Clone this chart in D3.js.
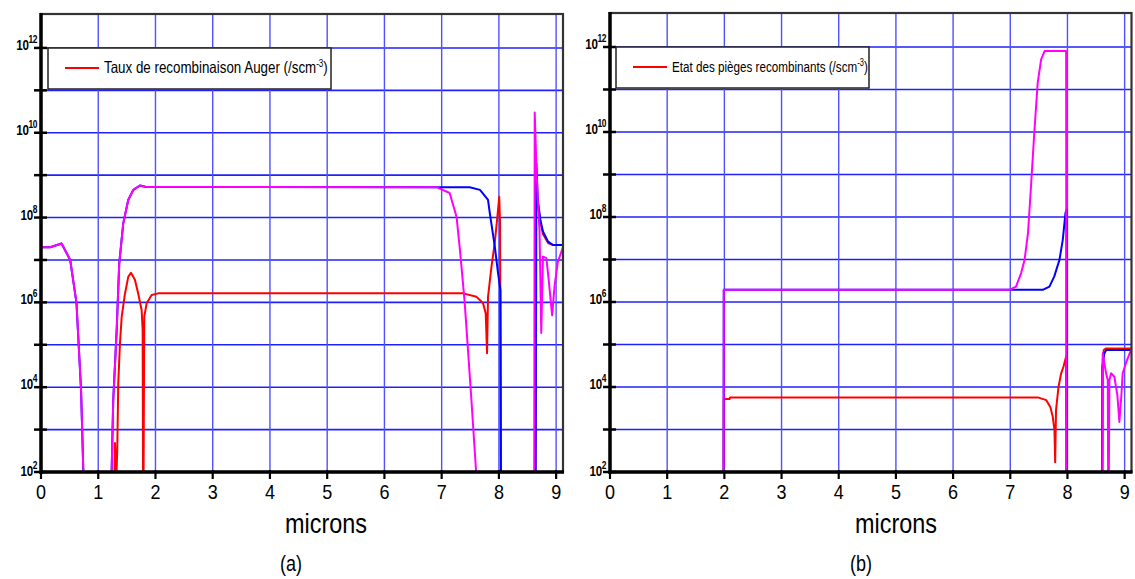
<!DOCTYPE html>
<html><head><meta charset="utf-8">
<script src="https://cdn.jsdelivr.net/npm/d3@7"></script>
<style>
body{margin:0;background:#fff;}
svg{display:block;}
text{font-family:"Liberation Sans",Arial,sans-serif;fill:#000;}
</style></head>
<body><svg id="chart" width="1135" height="579"></svg>
<script>
// ---------- DATA (micron, value in /cm3) ----------
const xTicks = [0,1,2,3,4,5,6,7,8,9];
const yDecades = [2,3,4,5,6,7,8,9,10,11,12];
const yLabelDecades = [2,4,6,8,10,12];

// Panel (a)
const aMagenta = [[0,2.0e7],[0.16,2.0e7],[0.36,2.45e7],[0.51,1.0e7],[0.62,9.7e5],[0.66,9e4],[0.70,8.5e3],[0.74,1e2],[0.76,1],
  [1.20,1],[1.234,1e2],[1.262,5e3],[1.322,2.2e5],[1.367,8.3e6],[1.437,7.3e7],[1.524,2.6e8],[1.612,4.5e8],[1.729,5.7e8],[1.82,5.3e8],
  [6.91,5.2e8],[7.14,3.8e8],[7.26,1.05e8],[7.32,1.7e7],[7.40,1.1e6],[7.46,7.6e4],[7.52,5e3],[7.60,1.1e2],[7.62,1],
  [8.615,1],[8.626,3.0e10],[8.655,1.6e9],[8.68,2.6e8],[8.71,5.1e7],[8.74,1.9e5],[8.77,1.2e7],[8.83,1.1e7],[8.87,3.4e6],[8.93,5e5],
  [8.975,2.6e6],[9.03,9e6],[9.12,2.0e7]];
const aBlue = [[0,2.0e7],[0.16,2.0e7],[0.36,2.45e7],[0.51,1.0e7],[0.62,9.7e5],[0.66,9e4],[0.70,8.5e3],[0.74,1e2],[0.76,1],
  [1.20,1],[1.234,1e2],[1.262,5e3],[1.322,2.2e5],[1.367,8.3e6],[1.437,7.3e7],[1.524,2.6e8],[1.612,4.5e8],[1.729,5.7e8],[1.82,5.3e8],
  [6.91,5.2e8],[7.49,5.2e8],[7.67,4.5e8],[7.81,2.6e8],[7.84,1.3e8],[7.93,2.0e7],[7.985,4.9e6],[8.027,1.95e6],[8.035,1e2],[8.04,1],
  [8.64,1],[8.655,1.9e9],[8.68,2.6e8],[8.725,8.8e7],[8.77,4.7e7],[8.86,2.7e7],[8.945,2.25e7],[9.12,2.25e7]];
const aRed = [[0,1],[1.27,1],[1.283,1e2],[1.292,4.8e2],[1.31,1e2],[1.32,1e2],[1.332,3.3e2],[1.35,1.26e4],[1.38,1.1e5],[1.41,4.6e5],
  [1.467,1.6e6],[1.524,4e6],[1.572,5e6],[1.641,3.4e6],[1.699,1.6e6],[1.758,6.6e5],[1.776,2.2e5],[1.786,1],[1.804,4.6e5],[1.846,9.5e5],
  [1.933,1.5e6],[2.048,1.63e6],[7.374,1.63e6],[7.61,1.35e6],[7.723,9.5e5],[7.77,5.5e5],[7.793,6.3e4],[7.81,1.35e6],[7.87,6.9e6],
  [7.927,2.5e7],[7.974,1.05e8],[8.006,3.1e8],[8.02,7.9e7],[8.04,1],
  [8.634,1],[8.643,1.6e9],[8.652,4.5e8],[8.68,2e8],[8.725,8e7],[8.77,4.1e7],[8.86,2.5e7],[8.945,2.25e7],[9.12,2.25e7]];

// Panel (b)
const bMagenta = [[0,1],[1.985,1],[1.99,1.93e6],[6.987,1.93e6],[7.10,2.3e6],[7.19,4.8e6],[7.25,9.8e6],[7.31,4.2e7],[7.366,6.3e8],
  [7.42,9.6e9],[7.48,1.45e11],[7.54,5.1e11],[7.60,8e11],[7.977,8e11],[7.983,1],
  [8.61,1],[8.617,6.2e4],[8.676,2.1e4],[8.705,1.45e4],[8.716,1],[8.733,1.45e4],[8.763,2.1e4],[8.82,1.74e4],[8.873,6.4e3],
  [8.908,1.5e3],[8.943,6.4e3],[8.966,2.1e4],[9.03,3.9e4],[9.11,7.4e4],[9.12,7.6e4]];
const bBlue = [[0,1],[1.985,1],[1.99,1.93e6],[7.568,1.93e6],[7.685,2.3e6],[7.77,4e6],[7.86,9.8e6],[7.918,2.9e7],[7.965,1.24e8],
  [7.983,1.5e8],[7.99,1],[8.605,1],[8.61,3e4],[8.646,6.2e4],[8.68,7.4e4],[9.12,7.4e4]];
const bRed = [[0,1],[1.985,1],[1.99,5.2e3],[2.09,5.2e3],[2.10,5.7e3],[7.48,5.7e3],[7.63,4.9e3],[7.70,3.4e3],[7.743,2e3],[7.773,9.6e2],
  [7.785,1.7e2],[7.80,2.85e3],[7.843,1e4],[7.89,2.1e4],[7.93,3e4],[7.977,5.2e4],[7.983,1],
  [8.605,1],[8.617,4.4e4],[8.635,7.4e4],[8.67,8e4],[9.12,8e4]];

const legendA = "Taux de recombinaison Auger (/scm";
const legendB = "Etat des pièges recombinants (/scm";
const xTitle = "microns";

// ---------- DRAW ----------
const svg = d3.select("#chart");

// squeeze a text group horizontally to a target ink width, anchored at its left (or given anchor)
function squeezeTo(sel, targetW, ax, ay){
  const w = sel.node().getBBox().width;
  const s = targetW / w;
  sel.attr("transform", `translate(${ax},${ay}) scale(${s},1) translate(${-ax},${-ay})`);
}

function panel(cfg){
  const g = svg.append("g");
  const x = d3.scaleLinear().domain([0, 9.12]).range([cfg.x0, cfg.x1]);
  const y = d3.scaleLog().domain([1e2, Math.pow(10,12.8)]).range([472, cfg.y0]);
  const id = "clip"+cfg.name;
  svg.append("clipPath").attr("id", id).append("rect")
    .attr("x", cfg.x0).attr("y", cfg.y0).attr("width", cfg.x1-cfg.x0).attr("height", 472-cfg.y0);

  // grid
  g.selectAll(".hg").data(yDecades.slice(1)).enter().append("line")
    .attr("x1", cfg.x0).attr("x2", cfg.x1)
    .attr("y1", d=>y(Math.pow(10,d))).attr("y2", d=>y(Math.pow(10,d)))
    .attr("stroke", "#2020ff").attr("stroke-width", 1.6);
  g.selectAll(".vg").data(xTicks.slice(1)).enter().append("line")
    .attr("x1", d=>x(d)).attr("x2", d=>x(d)).attr("y1", cfg.y0).attr("y2", 472)
    .attr("stroke", "#5050ff").attr("stroke-width", 1.4);

  // curves: red, blue, magenta on top
  const line = d3.line().x(d=>x(d[0])).y(d=>y(Math.max(d[1],1e-3)));
  const cg = g.append("g").attr("clip-path", `url(#${id})`);
  [[cfg.red,"#ff0000"],[cfg.blue,"#0000ff"],[cfg.magenta,"#ff00ff"]].forEach(([data,col])=>{
    cg.append("path").attr("d", line(data)).attr("fill","none").attr("stroke",col)
      .attr("stroke-width",2).attr("stroke-linejoin","round");
  });

  // frame
  g.append("rect").attr("x", cfg.x0).attr("y", cfg.y0).attr("width", cfg.x1-cfg.x0).attr("height", 472-cfg.y0)
    .attr("fill","none").attr("stroke","#333").attr("stroke-width",2.2);
  g.append("line").attr("x1",cfg.x0).attr("x2",cfg.x0).attr("y1",cfg.y0-1).attr("y2",474)
    .attr("stroke","#000").attr("stroke-width",3.5);
  g.append("line").attr("x1",cfg.x0-1).attr("x2",cfg.x1+1).attr("y1",472).attr("y2",472)
    .attr("stroke","#000").attr("stroke-width",3.5);

  // y ticks
  g.selectAll(".yt").data(yDecades).enter().append("line")
    .attr("x1", cfg.x0-7).attr("x2", cfg.x0+6)
    .attr("y1", d=>y(Math.pow(10,d))).attr("y2", d=>y(Math.pow(10,d)))
    .attr("stroke","#000").attr("stroke-width",2.5);
  yLabelDecades.forEach(d=>{
    const ty = y(Math.pow(10,d)) + (d===2?4:2);
    const tx = cfg.x0-4;
    const t = g.append("text").attr("x", tx).attr("y", ty)
      .attr("text-anchor","end").style("font-size","14.5px").style("font-weight","bold")
      .style("letter-spacing","-0.5px");
    t.append("tspan").text("10");
    t.append("tspan").attr("dy",-7).style("font-size","10.5px").text(d);
    t.attr("transform", `translate(${tx},${ty}) scale(0.8,1) translate(${-tx},${-ty})`);
  });

  // x ticks
  g.selectAll(".xt").data(xTicks).enter().append("line")
    .attr("x1", d=>x(d)).attr("x2", d=>x(d)).attr("y1", 470).attr("y2", 479)
    .attr("stroke","#000").attr("stroke-width",2.2);
  xTicks.forEach(d=>{
    const tx = x(d), ty = 499;
    g.append("text").attr("x", tx).attr("y", ty).attr("text-anchor","middle")
      .style("font-size","20px").text(d)
      .attr("transform", `translate(${tx},${ty}) scale(0.9,1) translate(${-tx},${-ty})`);
  });

  // titles
  const tt = g.append("text").attr("x", cfg.titleX).attr("y", 533).attr("text-anchor","middle")
    .style("font-size","28px").text(xTitle);
  squeezeTo(tt, 82, cfg.titleX, 533);
  const lb = g.append("text").attr("x", cfg.titleX-35).attr("y", 571).attr("text-anchor","middle")
    .style("font-size","22px").text(cfg.label);
  squeezeTo(lb, 22, cfg.titleX-35, 571);

  // legend
  const L = cfg.legend;
  g.append("rect").attr("x",L.x).attr("y",L.y).attr("width",L.w).attr("height",41)
    .attr("fill","#fff").attr("stroke","#222").attr("stroke-width",1.5);
  g.append("line").attr("x1",L.x+17).attr("x2",L.x+51).attr("y1",L.y+20).attr("y2",L.y+20)
    .attr("stroke","#ff0000").attr("stroke-width",2.2);
  const lx = L.x+56, ly = L.y+25;
  const lt = g.append("text").attr("x",lx).attr("y",ly).style("font-size",L.fs+"px");
  lt.append("tspan").text(L.text);
  lt.append("tspan").attr("dy",-6).style("font-size","10px").text("-3");
  lt.append("tspan").attr("dy",6).text(")");
  squeezeTo(lt, L.tw, lx, ly);
}

panel({name:"a", x0:41, x1:563, y0:14, red:aRed, blue:aBlue, magenta:aMagenta, titleX:326, label:"(a)",
  legend:{x:48, y:48, w:283, text:legendA, tw:224, fs:16.5}});
panel({name:"b", x0:610, x1:1131.5, y0:13, red:bRed, blue:bBlue, magenta:bMagenta, titleX:896, label:"(b)",
  legend:{x:616, y:47, w:253, text:legendB, tw:196, fs:15.5}});
</script></body></html>
